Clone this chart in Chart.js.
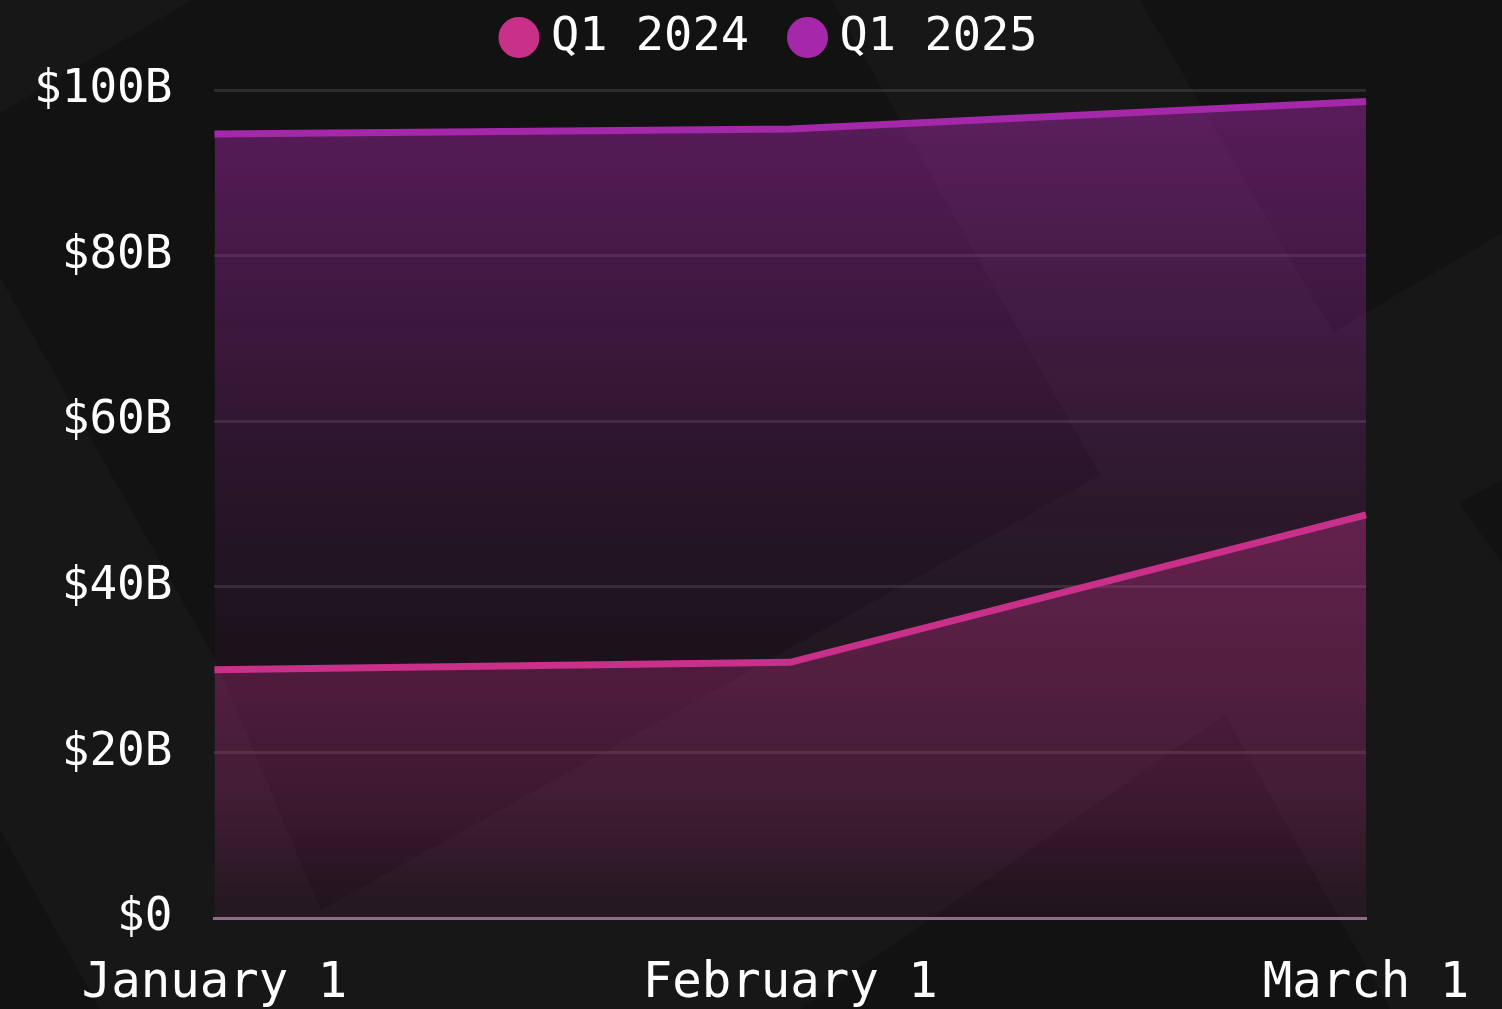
<!DOCTYPE html>
<html>
<head>
    <title>Q1 2024 vs Q1 2025</title>
    <script src="https://cdn.jsdelivr.net/npm/chart.js"></script>
    <style>
        html, body {
            margin: 0;
            padding: 0;
            background: #171717;
            overflow: hidden;
        }

        .wrap {
            position: relative;
            width: 1502px;
            height: 1009px;
        }

        .wrap svg,
        .wrap canvas {
            position: absolute;
            left: 0;
            top: 0;
        }
    </style>
</head>
<body>
    <div class="wrap">
        <!-- low-poly backdrop -->
        <svg width="1502" height="1009">
            <polygon points="0,113 192,0 832,0 1100,475 321,910 214,657 0,277" fill="#121212"/>
            <polygon points="1140,0 1502,0 1502,233 1333,332" fill="#121212"/>
            <polygon points="1459,503 1502,480 1502,563" fill="#121212"/>
            <polygon points="0,830 0,1009 100,1009" fill="#121212"/>
            <polygon points="1225,715 800,1009 1390,1009" fill="#121212"/>
        </svg>
        <canvas id="chart" width="1502" height="1009"></canvas>
    </div>

<script>
    const months = ['January 1', 'February 1', 'March 1'];
    const seriesNames = ['Q1 2024', 'Q1 2025'];
    const q1of2024 = [30, 30.9, 48.7];
    const q1of2025 = [94.7, 95.3, 98.6];
    const yTicks = [0, 20, 40, 60, 80, 100];

    const FONT = "'DejaVu Sans Mono', 'Liberation Mono', monospace";

    // vertical fade, stops are [position, alpha]
    function fillGradient(rgb, stops) {
        return (context) => {
            const area = context.chart.chartArea;
            if (!area) return 'transparent';
            const g = context.chart.ctx.createLinearGradient(0, area.top, 0, area.bottom);
            stops.forEach(([pos, a]) => g.addColorStop(pos, `rgba(${rgb}, ${a})`));
            return g;
        };
    }

    // extra room under the legend, and nudge it right like the original
    const legendTweak = {
        id: 'legendTweak',
        beforeLayout(chart) {
            const legend = chart.legend;
            if (!legend || legend._tweaked) return;
            const fit = legend.fit;
            legend.fit = function () {
                fit.call(this);
                this.height += 19;
            };
            legend._tweaked = true;
        },
        afterLayout(chart) {
            chart.legend.left += 95;
            chart.legend.right += 95;
        }
    };

    const ctx = document.getElementById('chart').getContext('2d');

    new Chart(ctx, {
        type: 'line',
        data: {
            labels: months,
            datasets: [{
                label: seriesNames[0],
                data: q1of2024,
                borderColor: '#c8308a',
                backgroundColor: fillGradient('200, 48, 138', [
                    [0, 0.4], [0.53, 0.36], [0.71, 0.3], [0.86, 0.21], [0.95, 0.1], [1, 0.05]
                ]),
                pointBackgroundColor: '#c8308a',
                pointBorderColor: '#c8308a',
                borderWidth: 7,
                pointRadius: 0,
                tension: 0,
                fill: 'origin'
            },
            {
                label: seriesNames[1],
                data: q1of2025,
                borderColor: '#a628aa',
                backgroundColor: fillGradient('166, 40, 170', [
                    [0, 0.5], [0.06, 0.45], [0.25, 0.31], [0.49, 0.15], [0.66, 0.07], [1, 0.02]
                ]),
                pointBackgroundColor: '#a628aa',
                pointBorderColor: '#a628aa',
                borderWidth: 7,
                pointRadius: 0,
                tension: 0,
                fill: 'origin'
            }]
        },
        options: {
            responsive: false,
            animation: false,
            layout: {
                padding: { left: -8, right: 136, top: -36, bottom: -34 }
            },
            plugins: {
                legend: {
                    position: 'top',
                    labels: {
                        color: '#ffffff',
                        font: { family: FONT, size: 47 },
                        usePointStyle: true,
                        pointStyle: 'circle',
                        boxWidth: 17,
                        boxHeight: 24,
                        padding: 50
                    }
                },
                tooltip: { enabled: false }
            },
            scales: {
                x: {
                    z: 1,
                    grid: { display: false },
                    border: { display: true, color: '#8c6e8c', width: 3 },
                    ticks: {
                        color: '#ffffff',
                        font: { family: FONT, size: 49 },
                        padding: 29,
                        maxRotation: 0,
                        autoSkip: false
                    }
                },
                y: {
                    min: yTicks[0],
                    max: yTicks[yTicks.length - 1],
                    afterBuildTicks: (scale) => {
                        scale.ticks = yTicks.map(v => ({ value: v }));
                    },
                    grid: {
                        color: 'rgba(255, 255, 255, 0.11)',
                        lineWidth: 3,
                        drawTicks: false
                    },
                    border: { display: false },
                    ticks: {
                        color: '#ffffff',
                        font: { family: FONT, size: 46 },
                        padding: 42,
                        callback: (v) => '$' + v + (v === 0 ? '' : 'B')
                    }
                }
            }
        },
        plugins: [legendTweak]
    });
</script>
</body>
</html>
